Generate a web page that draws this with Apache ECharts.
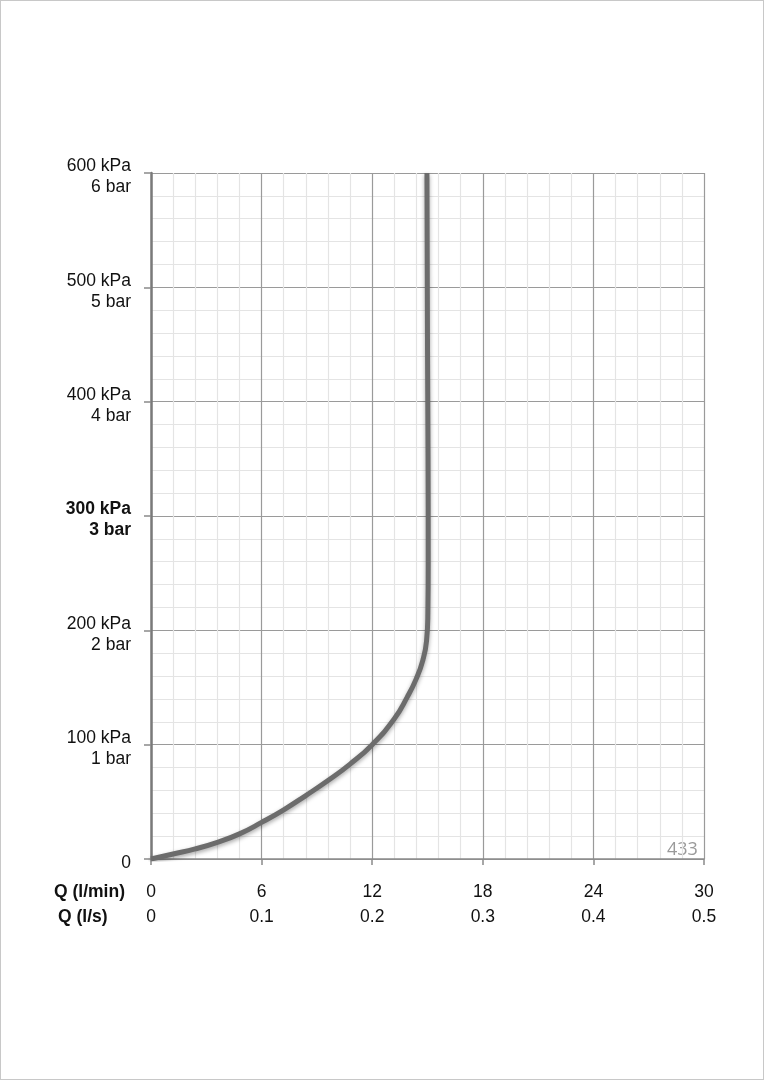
<!DOCTYPE html>
<html>
<head>
<meta charset="utf-8">
<script src="https://cdn.jsdelivr.net/npm/echarts@6/dist/echarts.min.js"></script>
<style>
html,body{margin:0;padding:0;background:#fff;}
#frame{position:absolute;left:0;top:0;width:762px;height:1078px;border:1px solid #c8c8c8;}
#chart{position:absolute;left:0;top:0;width:762px;height:1078px;}
</style>
</head>
<body>
<div id="frame"><div id="chart"></div></div>
<script>
// Flow Q (l/min) vs pressure (kPa)
const flowLmin = [0, 1.2, 2.4, 3.6, 4.8, 6, 7.2, 8.4, 9.6, 10.8, 12, 13.2, 13.9, 14.4, 14.75, 14.95, 15.02, 15.04, 15.03, 15.0, 14.97];
const pressureKpa = [0, 4.4, 8.8, 14.6, 22, 32, 43, 55.5, 68.6, 83, 100, 122.6, 141.6, 158, 174, 191, 215, 260, 350, 450, 600];

const yTickKpa = ['0', '100 kPa', '200 kPa', '300 kPa', '400 kPa', '500 kPa', '600 kPa'];
const yTickBar = ['', '1 bar', '2 bar', '3 bar', '4 bar', '5 bar', '6 bar'];
const xTickLmin = ['0', '6', '12', '18', '24', '30'];
const xTickLs = ['0', '0.1', '0.2', '0.3', '0.4', '0.5'];
const boldTickIndex = 3;

const chart = echarts.init(document.getElementById('chart'));
const FONT = '"Liberation Sans", Arial, Helvetica, sans-serif';
const FS = 17.5;

chart.setOption({
  animation: false,
  grid: { left: 150, top: 172, width: 553, height: 686, containLabel: false },
  xAxis: {
    type: 'value', min: 0, max: 30, interval: 6,
    axisLine: { show: true, lineStyle: { color: '#8a8a8a', width: 1.5 } },
    axisTick: { show: true, length: 6, lineStyle: { color: '#8a8a8a', width: 1.5 } },
    splitLine: { show: true, lineStyle: { color: '#9a9a9a', width: 1.2 } },
    minorTick: { show: false, splitNumber: 5 },
    minorSplitLine: { show: true, lineStyle: { color: '#e4e4e4', width: 1.2 } },
    axisLabel: {
      margin: 20.5, color: '#111', fontFamily: FONT, fontSize: FS, lineHeight: 25,
      formatter: function (v) { const i = Math.round(v / 6); return xTickLmin[i] + '\n' + xTickLs[i]; }
    }
  },
  yAxis: {
    type: 'value', min: 0, max: 600, interval: 100,
    axisLine: { show: true, lineStyle: { color: '#7a7a7a', width: 2.5 } },
    axisTick: { show: true, length: 7, lineStyle: { color: '#8a8a8a', width: 1.5 } },
    splitLine: { show: true, lineStyle: { color: '#9a9a9a', width: 1.2 } },
    minorTick: { show: false, splitNumber: 5 },
    minorSplitLine: { show: true, lineStyle: { color: '#e4e4e4', width: 1.2 } },
    axisLabel: {
      margin: 20, color: '#111', fontFamily: FONT, fontSize: FS, lineHeight: 21, align: 'right',
      padding: [8, 0, 0, 0],
      formatter: function (v) {
        const i = Math.round(v / 100);
        if (i === boldTickIndex) return '{b|' + yTickKpa[i] + '}\n{b|' + yTickBar[i] + '}';
        return yTickBar[i] ? yTickKpa[i] + '\n' + yTickBar[i] : yTickKpa[i];
      },
      rich: { b: { fontWeight: 'bold', fontSize: FS, fontFamily: FONT, color: '#111', lineHeight: 21, align: 'right' } }
    }
  },
  graphic: [
    { type: 'text', x: 53, y: 891, style: { text: 'Q (l/min)', font: 'bold ' + FS + 'px ' + FONT, fill: '#111', verticalAlign: 'middle' } },
    { type: 'text', x: 57, y: 916, style: { text: 'Q (l/s)', font: 'bold ' + FS + 'px ' + FONT, fill: '#111', verticalAlign: 'middle' } },
    { type: 'text', x: 666, y: 848.5, style: { text: '433', font: '18px "Open Sans", sans-serif', fill: '#9a9a9a', verticalAlign: 'middle' } }
  ],
  series: [{
    type: 'line', smooth: 0.5, showSymbol: false,
    data: flowLmin.map((q, i) => [q, pressureKpa[i]]),
    lineStyle: { color: '#6c6c6c', width: 5, shadowBlur: 4, shadowColor: 'rgba(0,0,0,0.35)', shadowOffsetY: 2 },
    z: 5
  }]
});
</script>
</body>
</html>
